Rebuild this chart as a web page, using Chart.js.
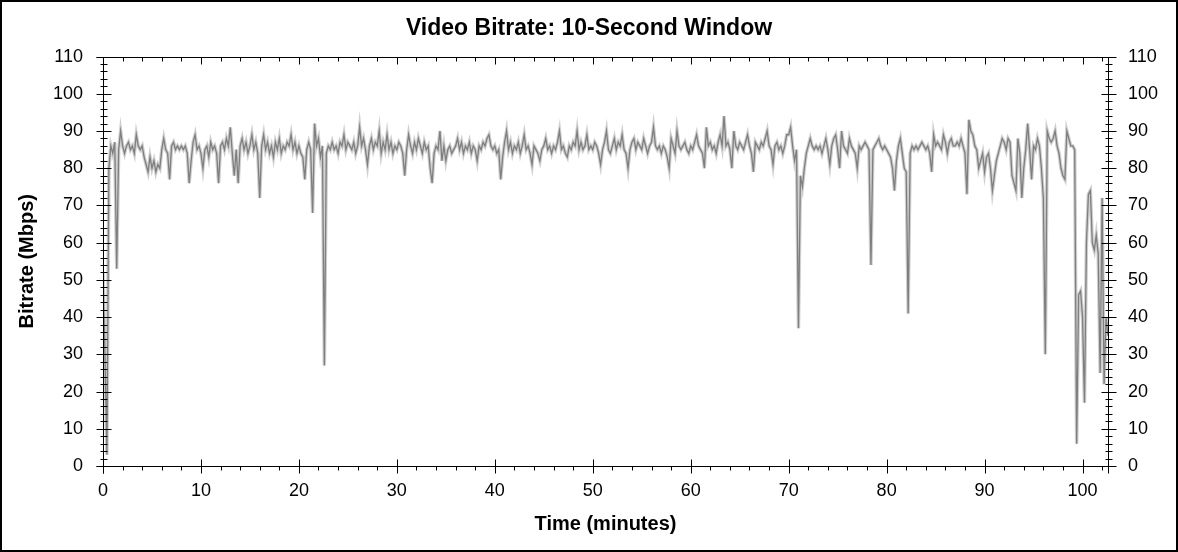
<!DOCTYPE html>
<html><head><meta charset="utf-8">
<script src="https://cdn.jsdelivr.net/npm/chart.js@4.4.1/dist/chart.umd.min.js"></script>
<style>html,body{margin:0;padding:0;background:#fff}canvas{display:block}</style>
</head><body>
<canvas id="c" width="1178" height="552"></canvas>
<script>
// Sampling step of the series (minutes)
const STEP_MIN = 0.2;
// Bitrate (Mbps), 10-minute segments
const seg0 = [52,30,3,80,86,84,87,53,85,90, 86,84,86,87,85,86,84,89,86,85, 86,83,81,79,83,80,82,79,81,80, 85,88,85,84,77,86,87,85,86,85, 86,85,86,84,76,82,87,89,85,86];
const seg1 = [84,80,85,86,83,87,85,86,84,76, 86,87,85,88,86,91,84,78,85,76, 86,88,85,87,84,86,89,85,87,84, 72,86,89,85,87,84,86,83,87,85, 88,84,86,85,87,86,89,85,87,84];
const seg2 = [86,84,83,77,85,87,85,68,92,86, 88,83,86,27,84,86,85,87,85,86, 84,87,86,89,85,87,86,85,87,84, 86,91,86,88,85,81,86,88,85,87, 86,90,84,87,85,89,85,87,84,86];
const seg3 = [85,87,86,84,78,85,89,86,84,87, 85,88,86,84,87,85,86,80,76,84, 86,85,90,82,86,82,85,86,84,85, 86,88,85,87,84,86,85,87,84,86, 85,82,86,85,87,86,88,89,86,85];
const seg4 = [86,84,85,77,83,87,90,85,87,84, 86,85,87,84,86,89,85,86,84,81, 86,85,84,82,85,86,88,85,86,84, 86,85,87,90,85,86,84,83,86,85, 87,86,90,85,87,85,86,89,85,86];
const seg5 = [85,87,86,84,81,85,87,90,85,84, 86,88,85,87,86,89,85,84,80,85, 87,88,85,87,86,85,88,86,84,86, 87,91,86,85,86,84,86,85,83,80, 88,86,84,90,86,85,86,87,85,84];
const seg6 = [86,85,87,89,86,85,84,80,91,86, 87,85,86,84,87,89,86,94,86,87, 85,80,90,86,85,87,86,85,87,89, 86,84,79,87,86,85,87,86,88,90, 86,85,81,86,87,85,86,84,86,89];
const seg7 = [89,91,86,82,85,37,78,75,80,84, 86,88,86,85,86,85,86,84,86,88, 85,81,86,88,89,85,80,90,86,85, 84,88,86,85,84,80,86,85,86,87, 86,85,54,85,86,87,88,86,85,86];
const seg8 = [85,84,83,80,74,82,86,88,84,80, 79,41,84,86,85,86,85,86,87,86, 85,86,84,79,89,86,87,86,85,89, 87,84,87,88,86,86,87,86,88,86, 84,73,93,90,89,86,85,80,82,84];
const seg9 = [79,83,84,80,74,78,82,84,86,88, 87,85,88,87,78,76,74,88,84,72, 80,85,92,85,77,86,85,88,86,80, 72,30,90,88,87,88,90,86,84,80, 78,77,90,88,86,86,85,6,46,47];
const seg10 = [40,17,60,73,74,60,58,62,57,25,72,22,40,35];

const xTickLabels = [0,10,20,30,40,50,60,70,80,90,100];
const yTickLabels = [0,10,20,30,40,50,60,70,80,90,100,110];
const X_MAX = 102.6;

const bitrate = [].concat(seg0,seg1,seg2,seg3,seg4,seg5,seg6,seg7,seg8,seg9,seg10);
const times = bitrate.map((_, i) => Math.round(i * STEP_MIN * 10) / 10);
const points = times.map((t, i) => ({x: t, y: bitrate[i]}));

Chart.defaults.font.family = "'Liberation Sans', Arial, sans-serif";
Chart.defaults.color = '#000';

const framePlugin = {
  id: 'frame',
  afterDraw(chart) {
    const {ctx, chartArea: {left, right, top, bottom}, scales: {x, y}} = chart;
    const r = v => Math.round(v) + 0.5;
    const L = r(left), R = r(right), T = r(top), B = r(bottom);
    ctx.save();
    ctx.strokeStyle = '#000';
    ctx.lineWidth = 1;
    ctx.beginPath();
    ctx.moveTo(L - 7, T); ctx.lineTo(R + 7, T);
    ctx.moveTo(L - 7, B); ctx.lineTo(R + 7, B);
    ctx.moveTo(L, T); ctx.lineTo(L, B + 7);
    ctx.moveTo(R, T); ctx.lineTo(R, B + 7);
    for (let v = 0; v <= 110; v += 2) {
      const py = r(y.getPixelForValue(v));
      const len = v % 10 === 0 ? 7 : 3;
      ctx.moveTo(L - len, py); ctx.lineTo(L + len + 1, py);
      ctx.moveTo(R - len, py); ctx.lineTo(R + len + 1, py);
    }
    for (let v = 0; v <= 102; v += 2) {
      const px = r(x.getPixelForValue(v));
      const maj = v % 10 === 0;
      ctx.moveTo(px, B - (maj ? 7 : 0)); ctx.lineTo(px, B + (maj ? 7 : 4));
      ctx.moveTo(px, T); ctx.lineTo(px, T + (maj ? 7 : 4));
    }
    ctx.stroke();
    ctx.lineWidth = 2;
    ctx.strokeRect(1, 1, chart.width - 2, chart.height - 2);
    ctx.restore();
  }
};

new Chart(document.getElementById('c'), {
  type: 'line',
  data: {
    datasets: [
      {data: points, borderColor: '#7f7f7f', borderWidth: 1.3, pointRadius: 0, tension: 0, fill: false},
      {data: points, borderColor: '#cfcfcf', borderWidth: 3.5, pointRadius: 0, tension: 0, fill: false}
    ]
  },
  options: {
    responsive: false,
    animation: false,
    events: [],
    layout: {padding: 0},
    plugins: {
      legend: {display: false},
      tooltip: {enabled: false},
      title: {
        display: true,
        text: 'Video Bitrate: 10-Second Window',
        font: {size: 23, weight: 'bold'},
        color: '#000',
        padding: {top: 15, bottom: 14}
      }
    },
    scales: {
      x: {
        type: 'linear', min: 0, max: X_MAX,
        grid: {display: false, drawTicks: false},
        border: {display: false},
        afterBuildTicks: s => { s.ticks = xTickLabels.map(v => ({value: v})); },
        afterFit: s => { s.height = 86; },
        ticks: {font: {size: 18}, padding: 14, maxRotation: 0, autoSkip: false, color: '#000'},
        title: {display: true, text: 'Time (minutes)', font: {size: 20, weight: 'bold'}, color: '#000', padding: {top: 0, bottom: 16}}
      },
      y: {
        type: 'linear', position: 'left', min: 0, max: 110,
        grid: {display: false, drawTicks: false},
        border: {display: false},
        afterBuildTicks: s => { s.ticks = yTickLabels.map(v => ({value: v})); },
        afterFit: s => { s.width = 103; },
        ticks: {font: {size: 18}, padding: 20, color: '#000'},
        title: {display: true, text: 'Bitrate (Mbps)', font: {size: 20, weight: 'bold'}, color: '#000', padding: {top: 15, bottom: 0}}
      },
      y2: {
        type: 'linear', position: 'right', min: 0, max: 110,
        grid: {display: false, drawTicks: false},
        border: {display: false},
        afterBuildTicks: s => { s.ticks = yTickLabels.map(v => ({value: v})); },
        afterFit: s => { s.width = 70; },
        ticks: {font: {size: 18}, padding: 20, color: '#000'}
      }
    }
  },
  plugins: [framePlugin]
});
</script>
</body></html>
